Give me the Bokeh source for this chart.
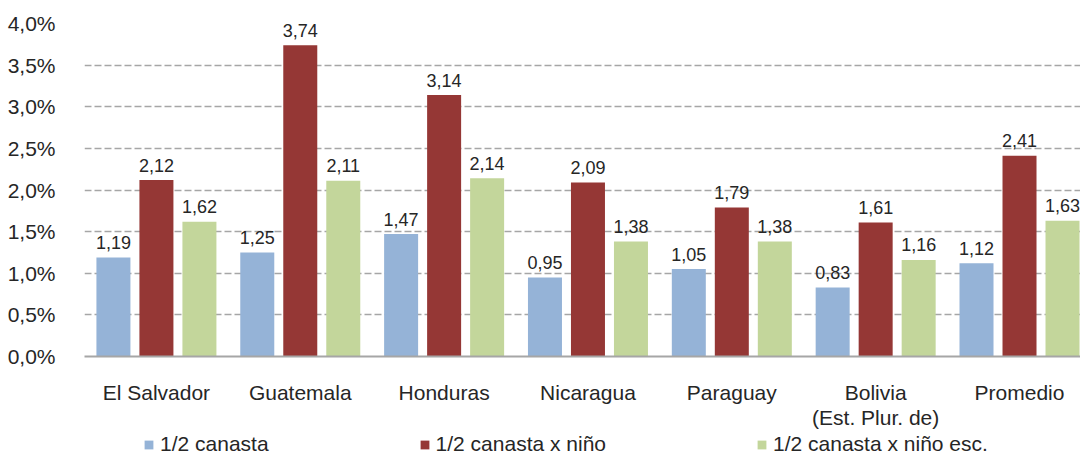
from bokeh.plotting import figure
from bokeh.layouts import column
from bokeh.models import ColumnDataSource, Range1d, FixedTicker, Legend, LegendItem
from bokeh.core.properties import value
from bokeh.embed import file_html
from bokeh.resources import INLINE

categories = ["El Salvador", "Guatemala", "Honduras", "Nicaragua", "Paraguay",
              "Bolivia\n(Est. Plur. de)", "Promedio"]
series_names = ["1/2 canasta", "1/2 canasta x niño", "1/2 canasta x niño esc."]
canasta = [1.19, 1.25, 1.47, 0.95, 1.05, 0.83, 1.12]
canasta_nino = [2.12, 3.74, 3.14, 2.09, 1.79, 1.61, 2.41]
canasta_nino_esc = [1.62, 2.11, 2.14, 1.38, 1.38, 1.16, 1.63]
y_ticks = [0.0, 0.5, 1.0, 1.5, 2.0, 2.5, 3.0, 3.5, 4.0]
y_tick_labels = ["0,0%", "0,5%", "1,0%", "1,5%", "2,0%", "2,5%", "3,0%", "3,5%", "4,0%"]

colors = ["#95B3D7", "#953735", "#C3D69B"]
FONT = "Liberation Sans"
TEXT_COLOR = "#262626"

W = 1080
H_MAIN, H_LEG = 431, 25
LEFT = 84
X_END = 6.924
p = figure(width=W, height=H_MAIN, output_backend="svg", toolbar_location=None,
           x_range=Range1d(0, X_END), y_range=Range1d(0, 4.0),
           min_border_left=LEFT, min_border_right=0, min_border_top=23,
           min_border_bottom=74)
p.outline_line_color = None
p.background_fill_color = "white"
p.border_fill_color = "white"

unit = (W - LEFT) / X_END
offset = 43 / unit
bar_w = 34 / unit
centers = [i + 0.5 for i in range(len(categories))]
all_series = [canasta, canasta_nino, canasta_nino_esc]

for k, vals in enumerate(all_series):
    xs = [c + (k - 1) * offset for c in centers]
    src = ColumnDataSource(dict(x=xs, top=vals,
                                lbl=[f"{v:.2f}".replace(".", ",") for v in vals]))
    p.vbar(x="x", top="top", width=bar_w, source=src, fill_color=colors[k],
           line_color=None)
    p.text(x="x", y="top", text="lbl", source=src, text_align="center",
           text_baseline="alphabetic", y_offset=-15, text_font=value(FONT),
           text_font_size="18px", text_color=TEXT_COLOR)

# axes
p.xaxis.ticker = FixedTicker(ticks=centers)
p.xaxis.major_label_overrides = {c: lab for c, lab in zip(centers, categories)}
p.xaxis.major_tick_line_color = None
p.xaxis.minor_tick_line_color = None
p.xaxis.axis_line_color = "#A6A6A6"
p.xaxis.axis_line_width = 2
p.xaxis.major_label_standoff = 18
p.xaxis.major_label_text_font = FONT
p.xaxis.major_label_text_font_size = "21px"
p.xaxis.major_label_text_line_height = 1.1
p.xaxis.major_label_text_color = TEXT_COLOR

p.yaxis.ticker = FixedTicker(ticks=y_ticks)
p.yaxis.major_label_overrides = {t: lab for t, lab in zip(y_ticks, y_tick_labels)}
p.yaxis.axis_line_color = None
p.yaxis.major_tick_line_color = None
p.yaxis.minor_tick_line_color = None
p.yaxis.major_label_standoff = 23
p.yaxis.major_label_text_font = FONT
p.yaxis.major_label_text_font_size = "21px"
p.yaxis.major_label_text_color = TEXT_COLOR

p.xgrid.grid_line_color = None
p.ygrid.ticker = FixedTicker(ticks=y_ticks)
p.ygrid.grid_line_color = "#A6A6A6"
p.ygrid.grid_line_width = 1.5
p.ygrid.grid_line_dash = "7 3"

# legend strip below the chart
lf = figure(width=W, height=H_LEG, output_backend="svg", toolbar_location=None,
            x_range=Range1d(0, X_END), y_range=Range1d(0, 4.0),
            min_border=0, min_border_left=0, min_border_right=0,
            min_border_top=0, min_border_bottom=0)
lf.axis.visible = False
lf.grid.visible = False
lf.outline_line_color = None
lf.background_fill_color = "white"
lf.border_fill_color = "white"
leg_renderers = []
for k, vals in enumerate(all_series):
    r = lf.vbar(x=centers, top=vals, width=bar_w, fill_color=colors[k], line_color=None)
    r.visible = False
    leg_renderers.append(r)
legend = Legend(items=[LegendItem(label=n, renderers=[r]) for n, r in zip(series_names, leg_renderers)],
                orientation="horizontal", location=(59, 0),
                glyph_width=11, glyph_height=11, label_standoff=6, spacing=150,
                padding=0, margin=0, border_line_color=None,
                background_fill_alpha=0, inactive_fill_alpha=0,
                label_text_font=FONT,
                label_text_font_size="21px", label_text_color=TEXT_COLOR,
                label_height=20)
lf.add_layout(legend, "center")

layout = column(p, lf, spacing=0)
open("out.html", "w").write(file_html(layout, INLINE))
